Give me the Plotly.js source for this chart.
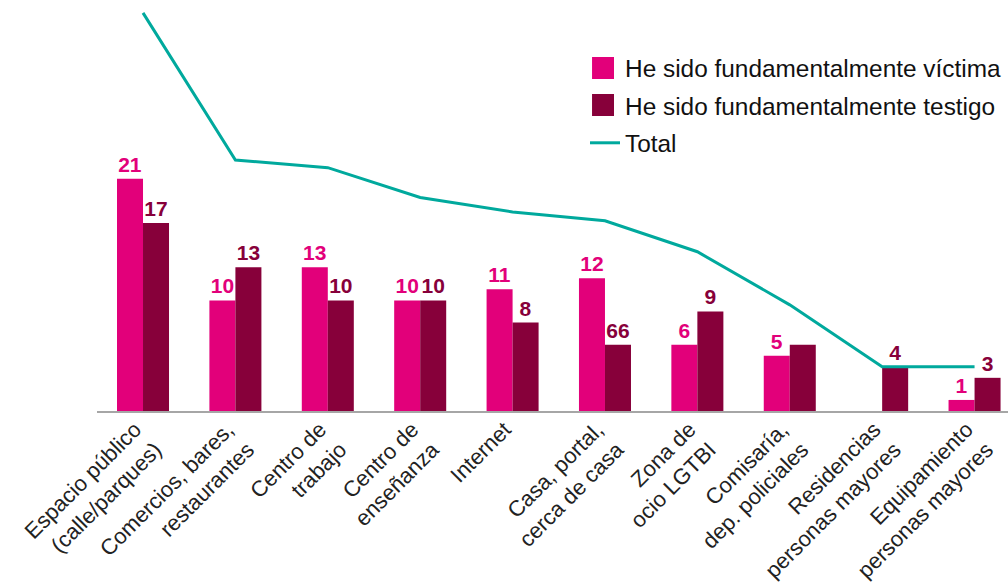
<!DOCTYPE html>
<html>
<head>
<meta charset="utf-8">
<script src="https://cdn.plot.ly/plotly-3.0.1.min.js"></script>
<style>html,body{margin:0;padding:0;background:#fff;}#chart{width:1008px;height:585px;}</style>
</head>
<body>
<div id="chart"></div>
<script>
const categories = ["Espacio público<br>(calle/parques)", "Comercios, bares,<br>restaurantes", "Centro de<br>trabajo", "Centro de<br>enseñanza", "Internet", "Casa, portal,<br>cerca de casa", "Zona de<br>ocio LGTBI", "Comisaría,<br>dep. policiales", "Residencias<br>personas mayores", "Equipamiento<br>personas mayores"];
const victima = [21, 10, 13, 10, 11, 12, 6, 5, 0, 1];
const testigo = [17, 13, 10, 10, 8, 6, 9, 6, 4, 3];
const total = [36, 22.7, 22, 19.3, 18, 17.2, 14.4, 9.6, 4, 4];
const victimaLabels = ["21", "10", "13", "10", "11", "12", "6", "5", "", "1"];
const testigoLabels = ["17", "13", "10", "10", "8", "66", "9", "", "4", "3"];
const seriesNames = ["He sido fundamentalmente víctima", "He sido fundamentalmente testigo", "Total"];

const idx = categories.map((_, i) => i);
const FONT = "Liberation Sans, Arial, sans-serif";
const PINK = "#E2007A", MAROON = "#87003A", TEAL = "#00A99D";

const traces = [
  {type: "bar", name: seriesNames[0], x: idx, y: victima, text: victimaLabels, textposition: "outside",
   constraintext: "none",
   textfont: {family: FONT, size: 21, color: PINK, weight: "bold"}, marker: {color: PINK},
   cliponaxis: false, legendgroup: "a", hoverinfo: "skip"},
  {type: "bar", name: seriesNames[1], x: idx, y: testigo, text: testigoLabels, textposition: "outside",
   constraintext: "none",
   textfont: {family: FONT, size: 21, color: MAROON, weight: "bold"}, marker: {color: MAROON},
   cliponaxis: false, legendgroup: "b", hoverinfo: "skip"},
  {type: "scatter", mode: "lines", name: seriesNames[2], x: idx, y: total,
   line: {color: TEAL, width: 3}, cliponaxis: false, legendgroup: "c", hoverinfo: "skip"}
];

// enlarged legend swatches (paper coordinates)
const shapes = [
  {type: "rect", xref: "paper", yref: "paper", x0: 0.5434, x1: 0.5675, y0: 0.8177, y1: 0.8719,
   fillcolor: PINK, line: {width: 0}, layer: "above"},
  {type: "rect", xref: "paper", yref: "paper", x0: 0.5434, x1: 0.5675, y0: 0.7266, y1: 0.7808,
   fillcolor: MAROON, line: {width: 0}, layer: "above"}
];

const layout = {
  width: 1008, height: 585,
  margin: {l: 97, r: 0, t: 5, b: 174, autoexpand: false},
  paper_bgcolor: "#fff", plot_bgcolor: "#fff",
  font: {family: FONT, color: "#222"},
  barmode: "group", bargap: 0.437, bargroupgap: 0,
  xaxis: {range: [-0.498, 9.362], tickmode: "array", tickvals: idx, ticktext: categories,
          tickangle: -45, tickfont: {family: FONT, size: 22, color: "#222"},
          ticklabelshift: -8, ticklabelstandoff: -5,
          showline: true, linecolor: "#A6A6A6", linewidth: 2, showgrid: false, zeroline: false,
          ticks: "", automargin: false, fixedrange: true},
  yaxis: {range: [0, 36.71], visible: false, showgrid: false, zeroline: false, fixedrange: true},
  shapes: shapes,
  showlegend: true,
  legend: {x: 0.5357, y: 0.9015, xanchor: "left", yanchor: "top",
           font: {family: FONT, size: 24.4, color: "#111"}, bgcolor: "rgba(0,0,0,0)",
           traceorder: "grouped", tracegroupgap: 3}
};

Plotly.newPlot("chart", traces, layout, {displayModeBar: false, staticPlot: true});
</script>
</body>
</html>
